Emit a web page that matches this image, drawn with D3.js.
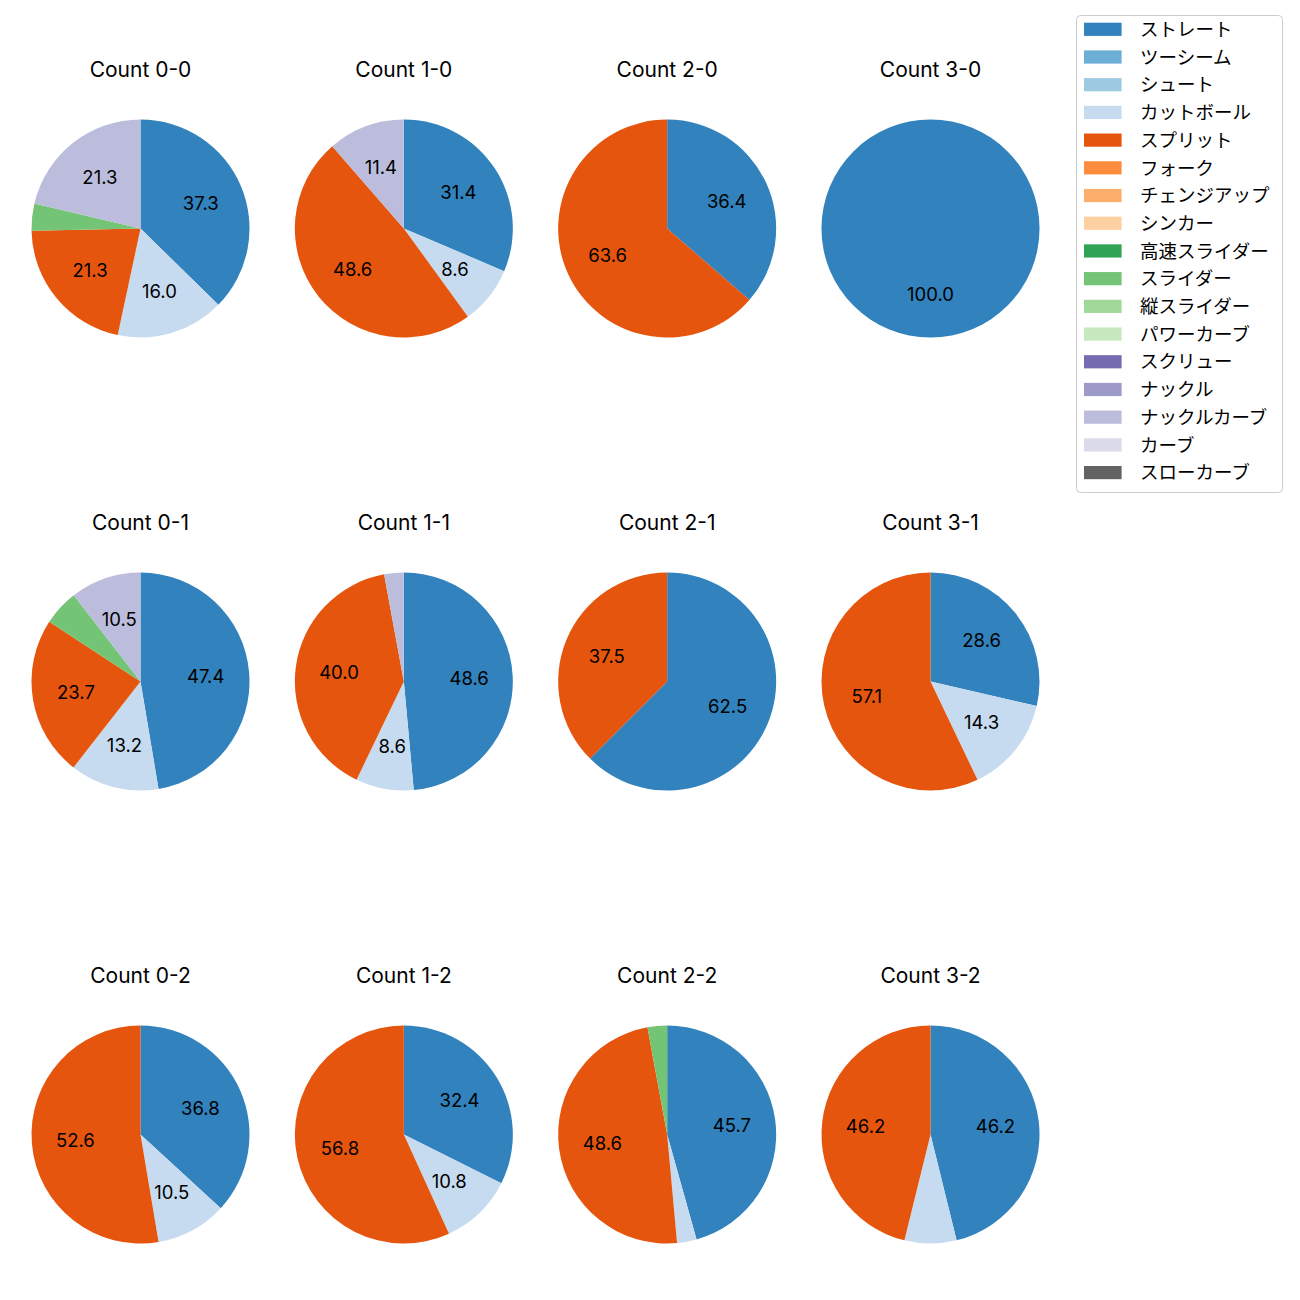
<!DOCTYPE html>
<html>
<head>
<meta charset="utf-8">
<script src="https://cdn.jsdelivr.net/npm/d3@7"></script>
<style>
  html, body { margin: 0; padding: 0; background: #fff; }
  svg { display: block; }
  text { font-family: "Noto Sans CJK JP", "Noto Sans", sans-serif; fill: #000; }
  text.latin { font-family: "Inter", "Noto Sans CJK JP", sans-serif; }
</style>
</head>
<body>
<svg id="chart" width="1300" height="1300"></svg>
<script>
// ---- data ----
const pitchTypes = ["ストレート","ツーシーム","シュート","カットボール","スプリット","フォーク","チェンジアップ","シンカー","高速スライダー","スライダー","縦スライダー","パワーカーブ","スクリュー","ナックル","ナックルカーブ","カーブ","スローカーブ"];
const pitchColors = ["#3182bd","#6baed6","#9ecae1","#c6dbef","#e6550d","#fd8d3c","#fdae6b","#fdd0a2","#31a354","#74c476","#a1d99b","#c7e9c0","#756bb1","#9e9ac8","#bcbddc","#dadaeb","#636363"];
const counts = ["0-0","1-0","2-0","3-0","0-1","1-1","2-1","3-1","0-2","1-2","2-2","3-2"];
const balls = ["0","1","2","3"];
const strikes = ["0","1","2"];

// percentages per count (same order as counts)
const straight     = [37.3, 31.4, 36.4, 100.0, 47.4, 48.6, 62.5, 28.6, 36.8, 32.4, 45.7, 46.2];
const cutball      = [16.0,  8.6,  0.0,   0.0, 13.2,  8.6,  0.0, 14.3, 10.5, 10.8,  2.9,  7.7];
const split        = [21.3, 48.6, 63.6,   0.0, 23.7, 40.0, 37.5, 57.1, 52.6, 56.8, 48.6, 46.2];
const slider       = [ 4.0,  0.0,  0.0,   0.0,  5.3,  0.0,  0.0,  0.0,  0.0,  0.0,  2.9,  0.0];
const knuckleCurve = [21.3, 11.4,  0.0,   0.0, 10.5,  2.9,  0.0,  0.0,  0.0,  0.0,  0.0,  0.0];
const labelMin = 8; // slices below this share are drawn without a label

const seriesByType = {
  "ストレート": straight,
  "カットボール": cutball,
  "スプリット": split,
  "スライダー": slider,
  "ナックルカーブ": knuckleCurve
};

// ---- layout ----
const svg = d3.select("#chart");
const color = d3.scaleOrdinal().domain(pitchTypes).range(pitchColors);
const xPos = d3.scalePoint().domain(balls).range([140.5, 930.5]);
const yPos = d3.scalePoint().domain(strikes).range([228.5, 1134.5]);
const radius = 109;

const pie = d3.pie().sort(null).value(d => d.value).startAngle(0).endAngle(2 * Math.PI);
const arc = d3.arc().innerRadius(0).outerRadius(radius);
const labelArc = d3.arc().innerRadius(radius * 0.6).outerRadius(radius * 0.6);

counts.forEach((c, ci) => {
  const [b, s] = c.split("-");
  const cx = xPos(b), cy = yPos(s);
  const g = svg.append("g").attr("transform", `translate(${cx},${cy})`);
  const data = pitchTypes
    .filter(t => seriesByType[t])
    .map(t => ({ type: t, value: seriesByType[t][ci] }))
    .filter(d => d.value > 0);
  const arcs = pie(data);
  g.selectAll("path").data(arcs).join("path")
    .attr("d", arc)
    .attr("fill", d => color(d.data.type));
  g.selectAll("text.lbl").data(arcs.filter(d => d.data.value >= labelMin)).join("text")
    .attr("class", "lbl latin")
    .attr("transform", d => `translate(${labelArc.centroid(d)})`)
    .attr("text-anchor", "middle")
    .attr("dy", "0.36em")
    .style("font-size", "18.5px")
    .text(d => d.data.value.toFixed(1));
  g.append("text")
    .attr("class", "latin")
    .attr("x", 0)
    .attr("y", -152)
    .attr("text-anchor", "middle")
    .style("font-size", "21px")
    .text(`Count ${c}`);
});

// ---- legend ----
const legend = svg.append("g");
const lx = 1076.5, ly = 15.5, lw = 206, lh = 477;
legend.append("rect")
  .attr("x", lx).attr("y", ly).attr("width", lw).attr("height", lh)
  .attr("rx", 4).attr("ry", 4)
  .attr("fill", "#fff").attr("fill-opacity", 0.8)
  .attr("stroke", "#cccccc").attr("stroke-width", 1);
const rowY = d3.scaleLinear().domain([0, pitchTypes.length - 1]).range([29.3, 472.6]);
const items = legend.selectAll("g.item").data(pitchTypes).join("g")
  .attr("class", "item")
  .attr("transform", (d, i) => `translate(0,${rowY(i)})`);
items.append("rect")
  .attr("x", 1084).attr("y", -6.6).attr("width", 37.6).attr("height", 13.2)
  .attr("fill", d => color(d));
items.append("text")
  .attr("x", 1140).attr("dy", "0.36em")
  .style("font-size", "18.5px")
  .text(d => d);
</script>
</body>
</html>
